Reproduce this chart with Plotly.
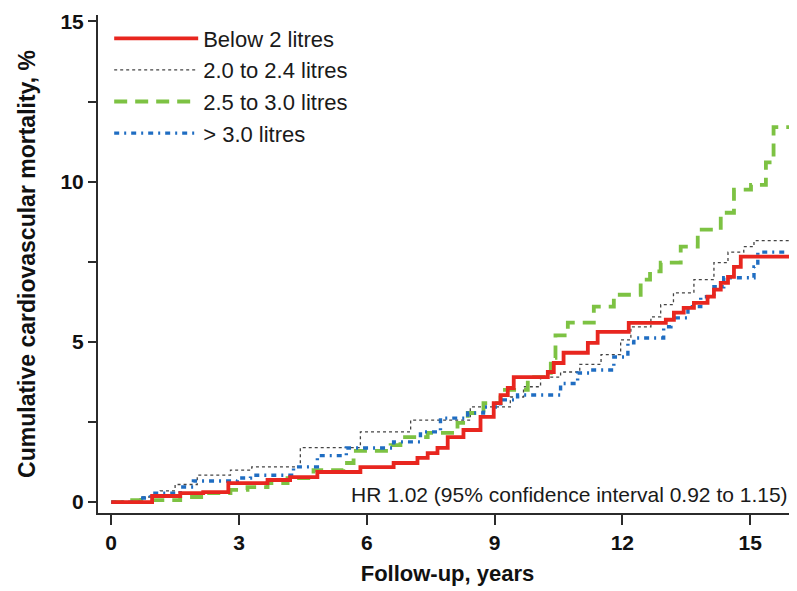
import plotly.graph_objects as go

# ---- data ----
series_names = ["Below 2 litres", "2.0 to 2.4 litres", "2.5 to 3.0 litres", "> 3.0 litres"]

t_below2 = [0, 0.96, 1.62, 2.16, 2.75, 3.67, 4.2, 4.84, 5.85, 6.63, 7.19, 7.43, 7.66, 7.9, 8.27,
            8.67, 8.98, 9.14, 9.31, 9.45, 10.25, 10.39, 10.62, 11.19, 11.42, 12.15, 13.02, 13.21,
            13.44, 13.68, 14.0, 14.15, 14.31, 14.48, 14.62, 14.78, 16.0]
y_below2 = [0, 0.19, 0.28, 0.31, 0.59, 0.69, 0.78, 0.94, 1.09, 1.22, 1.38, 1.53, 1.69, 2.03, 2.25,
            2.66, 3.09, 3.34, 3.56, 3.9, 4.06, 4.34, 4.66, 4.97, 5.31, 5.59, 5.69, 5.91,
            6.06, 6.22, 6.41, 6.63, 6.84, 7.03, 7.34, 7.66, 7.66]

t_2to24 = [0, 0.68, 1.15, 1.5, 2.02, 2.8, 3.3, 4.44, 5.85, 7.03, 8.43, 9.37, 9.68, 10.08, 10.55,
           11.0, 11.5, 11.96, 12.2, 12.67, 12.9, 13.2, 13.68, 14.15, 14.48, 14.85, 15.09, 15.96]
y_2to24 = [0, 0.16, 0.35, 0.55, 0.84, 1.0, 1.1, 1.7, 2.19, 2.56, 2.97, 3.28, 3.6, 3.9, 4.06,
           4.3, 4.6, 5.06, 5.47, 5.78, 6.16, 6.53, 6.94, 7.47, 7.8, 7.97, 8.16, 8.16]

t_25to30 = [0, 0.38, 1.62, 2.16, 2.8, 3.2, 3.67, 4.14, 4.75, 5.45, 5.69, 6.56, 6.79, 7.43, 8.13,
            8.37, 8.74, 9.14, 9.78, 10.32, 10.43, 10.72, 11.33, 11.8, 12.43, 12.65, 12.9, 13.37,
            13.77, 14.31, 14.62, 15.02, 15.37, 15.55, 16.0]
y_25to30 = [0, 0.06, 0.16, 0.28, 0.38, 0.47, 0.59, 0.75, 1.0, 1.22, 1.6, 1.78, 2.03, 2.16, 2.47,
            2.78, 3.09, 3.5, 3.9, 4.5, 5.2, 5.6, 6.1, 6.47, 6.94, 7.2, 7.47, 7.97,
            8.5, 9.03, 9.75, 9.9, 10.6, 11.7, 11.7]

t_over3 = [0, 0.68, 0.92, 1.62, 1.93, 2.96, 3.27, 4.28, 4.84, 5.52, 6.63, 7.26, 7.73, 8.37, 8.74,
           9.14, 9.54, 10.55, 10.95, 11.26, 11.8, 12.13, 12.27, 12.97, 13.14, 13.54, 13.84, 14.15,
           14.38, 15.09, 15.18, 16.0]
y_over3 = [0, 0.13, 0.28, 0.47, 0.66, 0.75, 0.84, 1.1, 1.45, 1.69, 1.88, 2.19, 2.62, 2.78, 2.97,
           3.19, 3.34, 3.7, 4.03, 4.12, 4.53, 4.97, 5.12, 5.47, 5.75, 6.1, 6.41, 6.72,
           7.0, 7.34, 7.8, 7.8]

x_tick_vals = [0, 3, 6, 9, 12, 15]
y_tick_vals = [0, 2.5, 5, 7.5, 10, 12.5, 15]
y_tick_text = ["0", "", "5", "", "10", "", "15"]

hr_text = "HR 1.02 (95% confidence interval 0.92 to 1.15)"

FONT = "Arial, 'Liberation Sans', sans-serif"
AX = "#2b2b2b"

fig = go.Figure()

# draw order: black, green, blue, red (red on top); legend order via legendrank
fig.add_trace(go.Scatter(x=t_2to24, y=y_2to24, mode="lines", name=series_names[1],
                         line=dict(shape="hv", color="#444444", width=1.3, dash="3px,3px"),
                         legendrank=2))
fig.add_trace(go.Scatter(x=t_25to30, y=y_25to30, mode="lines", name=series_names[2],
                         line=dict(shape="hv", color="#7dc243", width=3.8, dash="13px,8px"),
                         legendrank=3))
fig.add_trace(go.Scatter(x=t_over3, y=y_over3, mode="lines", name=series_names[3],
                         line=dict(shape="hv", color="#1f6dc2", width=3.4, dash="5px,5px,2px,5px"),
                         legendrank=4))
fig.add_trace(go.Scatter(x=t_below2, y=y_below2, mode="lines", name=series_names[0],
                         line=dict(shape="hv", color="#e8261f", width=3.8),
                         legendrank=1))

# the page body adds an 8px offset, so the figure is 8px smaller than the window
fig.update_layout(
    width=789, height=583,
    margin=dict(l=90, r=0, t=7, b=78, autoexpand=False),
    paper_bgcolor="white", plot_bgcolor="white",
    font=dict(family=FONT, color="#1a1a1a"),
    showlegend=True,
    legend=dict(x=0.016, y=0.995, xanchor="left", yanchor="top",
                font=dict(family=FONT, size=22, color="#1a1a1a"),
                bgcolor="rgba(0,0,0,0)", borderwidth=0, itemwidth=84,
                tracegroupgap=0),
    xaxis=dict(range=[-0.31, 16.1], tickmode="array", tickvals=x_tick_vals,
               ticks="outside", ticklen=10, tickwidth=2, tickcolor=AX, automargin=False,
               showline=True, linewidth=2, linecolor=AX, showgrid=False, zeroline=False,
               tickfont=dict(family=FONT, size=21, weight="bold", color="#111"),
               title=dict(text="Follow-up, years",
                          font=dict(family=FONT, size=22, weight="bold", color="#111"),
                          standoff=12)),
    yaxis=dict(range=[-0.34, 15.2], tickmode="array", tickvals=y_tick_vals, ticktext=y_tick_text,
               ticks="outside", ticklen=8, tickwidth=2, tickcolor=AX, automargin=False,
               showline=True, linewidth=2, linecolor=AX, showgrid=False, zeroline=False,
               tickfont=dict(family=FONT, size=21, weight="bold", color="#111"),
               title=dict(text="Cumulative cardiovascular mortality, %",
                          font=dict(family=FONT, size=23, weight="bold", color="#111"),
                          standoff=18)),
    annotations=[dict(text=hr_text, xref="paper", yref="paper", x=0.99, y=0.038,
                      xanchor="right", yanchor="middle", showarrow=False,
                      font=dict(family=FONT, size=21, color="#1a1a1a"))],
)

fig.write_html("out.html")
